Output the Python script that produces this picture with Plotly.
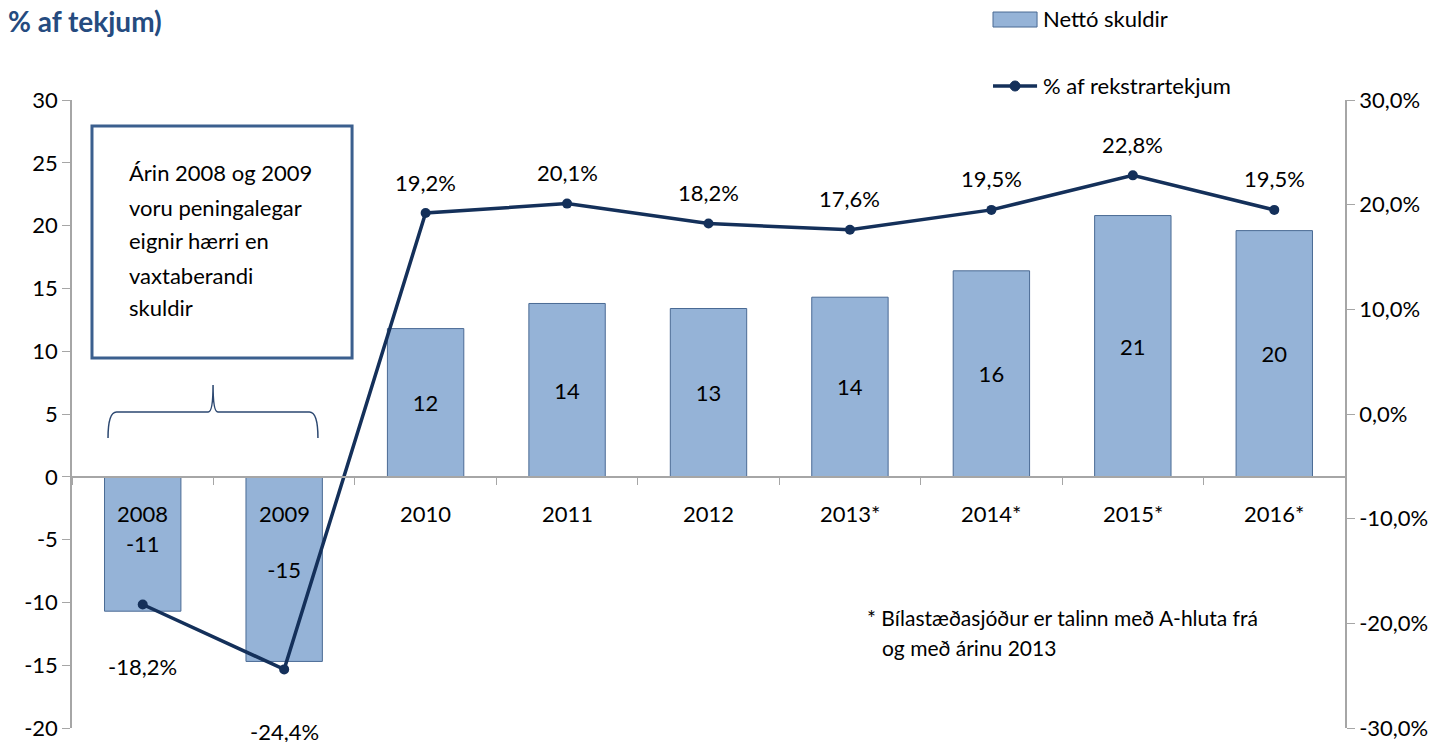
import plotly.graph_objects as go

# gögn lesin af myndinni
ar = ["2008", "2009", "2010", "2011", "2012", "2013*", "2014*", "2015*", "2016*"]
netto_skuldir = [-10.7, -14.7, 11.8, 13.8, 13.4, 14.3, 16.4, 20.8, 19.6]
hlutfall = [-18.2, -24.4, 19.2, 20.1, 18.2, 17.6, 19.5, 22.8, 19.5]

vinstri_ticks = [-20, -15, -10, -5, 0, 5, 10, 15, 20, 25, 30]
haegri_ticks = [-30, -20, -10, 0, 10, 20, 30]

textabox_linur = ["Árin 2008 og 2009", "voru peningalegar", "eignir hærri en",
                  "vaxtaberandi", "skuldir"]
skyring = ["* Bílastæðasjóður er talinn með A-hluta frá", "og með árinu 2013"]

FONT = "Lato"
NAVY = "#14305A"
GREY = "#A6A6A6"
BAR = "#95B3D7"
BAR_LINE = "#4A6A94"

fig = go.Figure()

fig.add_trace(go.Bar(
    x=ar, y=netto_skuldir, name="Nettó skuldir",
    marker=dict(color=BAR, line=dict(color=BAR_LINE, width=1)),
    text=[f"{v:.0f}" for v in netto_skuldir],
    textposition="inside", insidetextanchor="middle",
    textfont=dict(family=FONT, size=22, color="black"),
    showlegend=False,
))

fig.add_trace(go.Scatter(
    x=ar, y=hlutfall, name="% af rekstrartekjum", yaxis="y2",
    mode="lines+markers",
    line=dict(color=NAVY, width=3.5),
    marker=dict(color=NAVY, size=10),
    showlegend=False,
))

annotations = []

# ártöl við núll-línuna
for i, a in enumerate(ar):
    annotations.append(dict(x=i, y=0, xref="x", yref="y", text=a, showarrow=False,
                            yanchor="middle", yshift=-37,
                            font=dict(family=FONT, size=22, color="black")))

# prósentumerki við línuna
for i, v in enumerate(hlutfall):
    annotations.append(dict(x=i, y=v, xref="x", yref="y2",
                            text=f"{v:.1f}%".replace(".", ","), showarrow=False,
                            yanchor="middle", yshift=31 if v > 0 else -62,
                            font=dict(family=FONT, size=22, color="black")))

# texti í kassanum
box_y = [0.8838, 0.8296, 0.7755, 0.7213, 0.6688]
for t, yy in zip(textabox_linur, box_y):
    annotations.append(dict(x=0.0432, y=yy, xref="paper", yref="paper", text=t,
                            showarrow=False, xanchor="left", yanchor="middle",
                            font=dict(family=FONT, size=22, color="black")))

# skýring neðst
annotations.append(dict(x=0.6229, y=0.1752, xref="paper", yref="paper", text=skyring[0],
                        showarrow=False, xanchor="left", yanchor="middle",
                        font=dict(family=FONT, size=21, color="black")))
annotations.append(dict(x=0.6347, y=0.1274, xref="paper", yref="paper", text=skyring[1],
                        showarrow=False, xanchor="left", yanchor="middle",
                        font=dict(family=FONT, size=21, color="black")))

# skýringar (legend) handgerðar
annotations.append(dict(x=0.7612, y=1.129, xref="paper", yref="paper", text="Nettó skuldir",
                        showarrow=False, xanchor="left", yanchor="middle",
                        font=dict(family=FONT, size=22, color="black")))
annotations.append(dict(x=0.7612, y=1.0223, xref="paper", yref="paper",
                        text="% af rekstrartekjum",
                        showarrow=False, xanchor="left", yanchor="middle",
                        font=dict(family=FONT, size=22, color="black")))

shapes = [
    dict(type="rect", xref="paper", yref="paper", x0=0.0157, x1=0.22, y0=0.589, y1=0.9586,
         line=dict(color="#3B5F8E", width=3), fillcolor="rgba(0,0,0,0)"),
    # slaufusvigi yfir 2008 og 2009
    dict(type="path", xref="paper", yref="paper",
         path="M 0.0283,0.4618 Q 0.0283,0.5032 0.035,0.5032 L 0.107,0.5032 "
              "Q 0.1108,0.5032 0.1108,0.5462 Q 0.1108,0.5032 0.1146,0.5032 "
              "L 0.1865,0.5032 Q 0.1932,0.5032 0.1932,0.4618",
         line=dict(color="#2B4770", width=1.5)),
    # legend tákn
    dict(type="rect", xref="paper", yref="paper", x0=0.7235, x1=0.7581, y0=1.1162, y1=1.1401,
         line=dict(color=BAR_LINE, width=1), fillcolor=BAR),
    dict(type="line", xref="paper", yref="paper", x0=0.7235, x1=0.7581, y0=1.0223, y1=1.0223,
         line=dict(color=NAVY, width=3.5)),
    dict(type="circle", xref="paper", yref="paper", x0=0.7369, x1=0.7447, y0=1.0143, y1=1.0303,
         line=dict(color=NAVY, width=1), fillcolor=NAVY),
]

# síðan hefur 8px spássíu, myndin er því 8px minni
fig.update_layout(
    width=1439, height=734,
    margin=dict(l=64, r=102, t=92, b=14, autoexpand=False),
    plot_bgcolor="white", paper_bgcolor="white",
    font=dict(family=FONT, size=22, color="black"),
    bargap=0.46,
    showlegend=False,
    title=dict(text="<b>% af tekjum)</b>", x=0.0, xref="container", xanchor="left",
               y=0.981, yref="container", yanchor="middle",
               font=dict(family=FONT, size=28, color="#254B7F")),
    xaxis=dict(type="category", range=[-0.5, 8.5], anchor="free", position=0.4,
               showline=True, linecolor=GREY, linewidth=1.5,
               ticks="outside", tickson="boundaries", ticklen=7, tickcolor=GREY,
               showticklabels=False, showgrid=False, zeroline=False),
    yaxis=dict(range=[-20, 30], tickvals=vinstri_ticks,
               ticktext=[str(v) for v in vinstri_ticks],
               showline=True, linecolor=GREY, linewidth=1.5,
               ticks="outside", ticklen=8, tickcolor=GREY,
               showgrid=False, zeroline=False,
               tickfont=dict(family=FONT, size=22, color="black")),
    yaxis2=dict(range=[-30, 30], overlaying="y", side="right", tickvals=haegri_ticks,
                ticktext=[f"{v:.1f}%".replace(".", ",") for v in haegri_ticks],
                showline=True, linecolor=GREY, linewidth=1.5,
                ticks="outside", ticklen=8, tickcolor=GREY,
                showgrid=False, zeroline=False,
                tickfont=dict(family=FONT, size=22, color="black")),
    annotations=annotations,
    shapes=shapes,
)

fig.write_html("out.html")
